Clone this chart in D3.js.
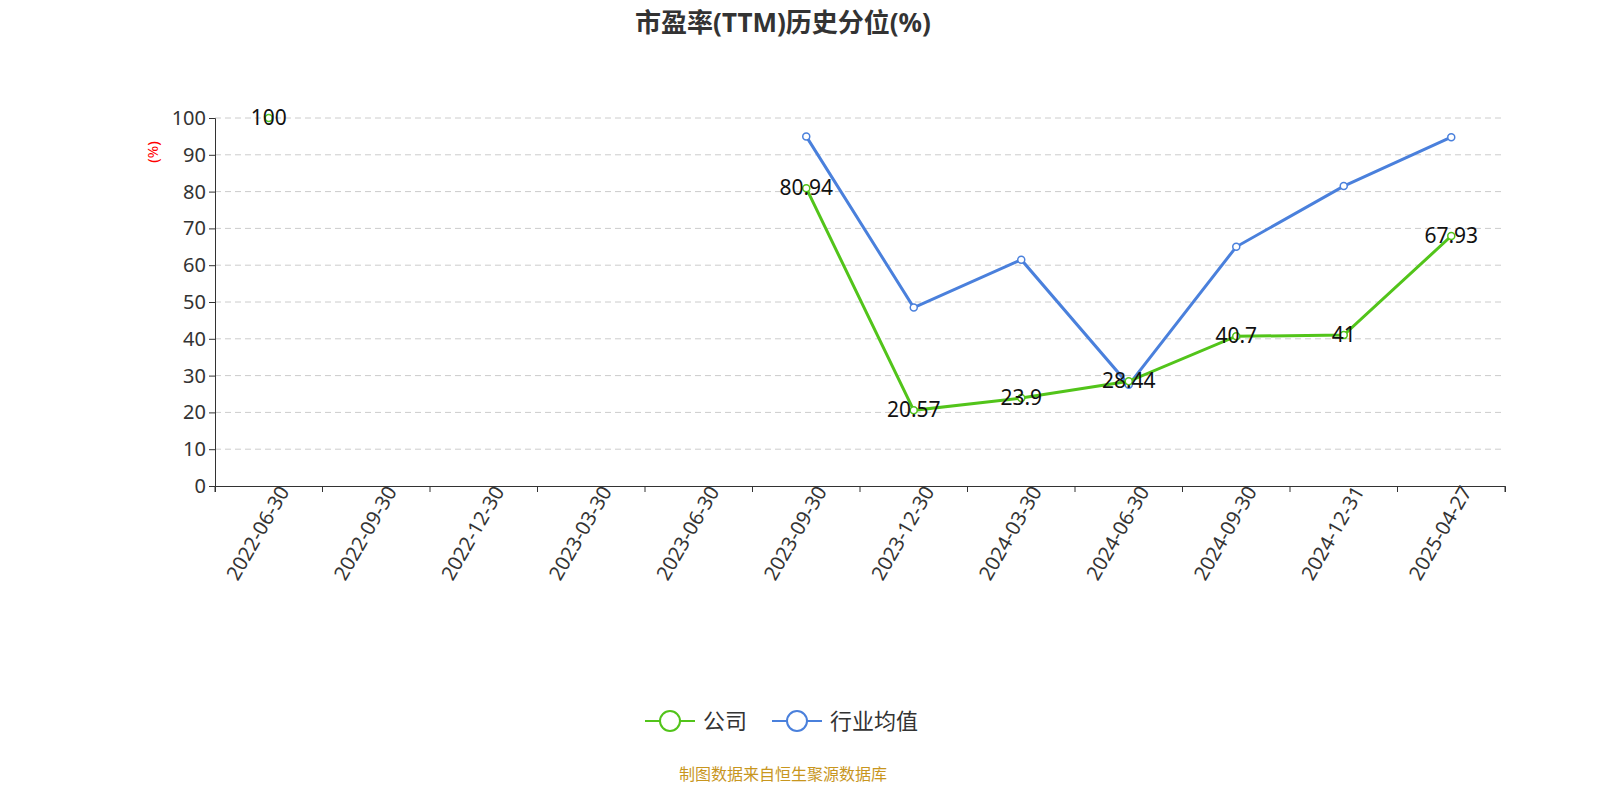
<!DOCTYPE html><html><head><meta charset="utf-8"><script src="https://cdn.jsdelivr.net/npm/d3@7"></script>
<style>html,body{margin:0;background:#fff;overflow:hidden}svg{display:block}text{font-family:"Noto Sans","Noto Sans CJK SC",sans-serif}</style></head><body>
<svg id="c" width="1600" height="800"></svg>
<script>
const categories=["2022-06-30","2022-09-30","2022-12-30","2023-03-30","2023-06-30","2023-09-30","2023-12-30","2024-03-30","2024-06-30","2024-09-30","2024-12-31","2025-04-27"];
const company=[100,null,null,null,null,80.94,20.57,23.9,28.44,40.7,41,67.93];
const industry=[null,null,null,null,null,95,48.5,61.5,27.5,65,81.5,94.8];
const yTicks=[0,10,20,30,40,50,60,70,80,90,100];
const svg=d3.select("#c");
const x=d3.scaleBand().domain(categories).range([215,1505]);
const y=d3.scaleLinear().domain([0,100]).range([486,118]);
const cx=d=>x(d)+x.bandwidth()/2;
svg.append("text").attr("x",783).attr("y",32).attr("text-anchor","middle").attr("font-size",26).attr("font-weight","bold").attr("fill","#333").text("市盈率(TTM)历史分位(%)");
yTicks.forEach(t=>{if(t>0)svg.append("line").attr("x1",215).attr("x2",1505).attr("y1",y(t)).attr("y2",y(t)).attr("stroke","#ccc").attr("stroke-dasharray","6,4");});
const ya=svg.append("g").attr("transform","translate(215,0)").call(d3.axisLeft(y).tickValues(yTicks).tickSize(6));
ya.selectAll("text").attr("font-size",20).attr("fill","#333");
ya.selectAll("line,path").attr("stroke","#333");
const xa=svg.append("g").attr("transform","translate(0,486)").call(d3.axisBottom(x).tickSize(6));
xa.selectAll(".tick line").attr("transform",`translate(${-x.bandwidth()/2},0)`);
xa.append("line").attr("x1",1505).attr("x2",1505).attr("y1",0).attr("y2",6).attr("stroke","#333");
xa.selectAll("line,path").attr("stroke","#333");
xa.selectAll("text").attr("font-size",20).attr("fill","#333").attr("text-anchor","end").attr("dx","0.3em").attr("dy","0.6em").attr("transform","rotate(-60)");
svg.append("text").attr("transform","translate(158,152) rotate(-90)").attr("text-anchor","middle").attr("font-size",15).attr("fill","red").text("(%)");
function series(data,color,labels){
 const line=d3.line().defined(d=>d!=null).x((d,i)=>cx(categories[i])).y(d=>y(d));
 svg.append("path").datum(data).attr("d",line).attr("fill","none").attr("stroke",color).attr("stroke-width",3);
 data.forEach((d,i)=>{if(d==null)return;
  svg.append("circle").attr("cx",cx(categories[i])).attr("cy",y(d)).attr("r",3.5).attr("fill","#fff").attr("stroke",color).attr("stroke-width",1.5);
  if(labels)svg.append("text").attr("x",cx(categories[i])).attr("y",y(d)+7).attr("text-anchor","middle").attr("font-size",21).attr("fill","#111").text(d);
 });
}
series(industry,"#4a80dc",false);
series(company,"#52c41a",true);
function leg(xp,color,label){
 svg.append("line").attr("x1",xp).attr("x2",xp+50).attr("y1",721).attr("y2",721).attr("stroke",color).attr("stroke-width",2);
 svg.append("circle").attr("cx",xp+25).attr("cy",721).attr("r",10).attr("fill","#fff").attr("stroke",color).attr("stroke-width",2);
 svg.append("text").attr("x",xp+58).attr("y",729).attr("font-size",22).attr("fill","#333").text(label);
}
leg(645,"#52c41a","公司");leg(772,"#4a80dc","行业均值");
svg.append("text").attr("x",783).attr("y",780).attr("text-anchor","middle").attr("font-size",16).attr("fill","#c8961e").text("制图数据来自恒生聚源数据库");
</script></body></html>
